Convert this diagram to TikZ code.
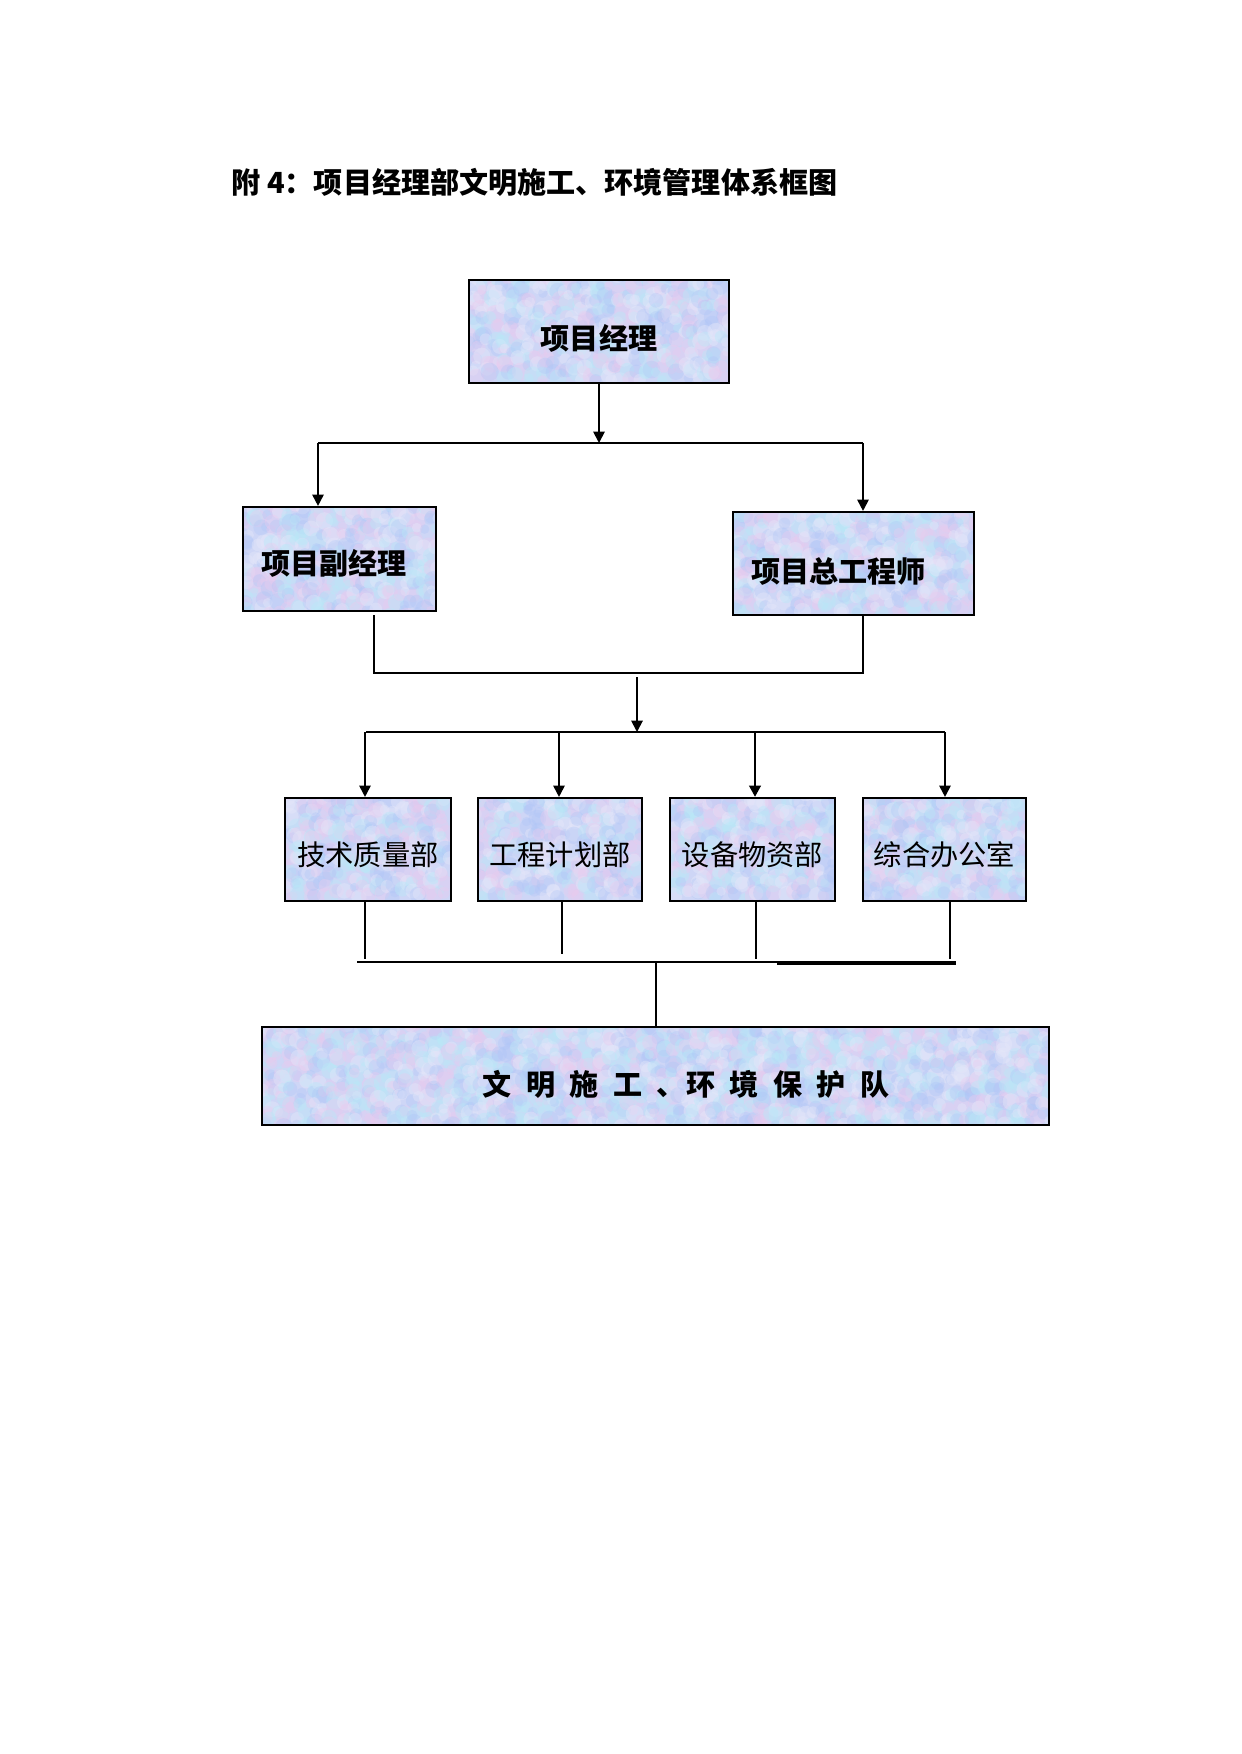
\documentclass[tikz,border=0pt]{standalone}
\usepackage{fontspec}
\setmainfont{Noto Sans CJK SC}
\usetikzlibrary{arrows.meta,calc}
\definecolor{texbase}{RGB}{206,214,246}
\definecolor{tpink}{RGB}{236,202,238}
\definecolor{tcyan}{RGB}{184,234,248}
\definecolor{tblue}{RGB}{172,196,246}
\definecolor{tpale}{RGB}{230,232,250}
\newcommand\lowtext[2]{\raisebox{-#1}[\height][\depth]{#2}}
% mottled fill of a rectangle given in px: x1,y1,x2,y2
\newcommand\mottle[4]{%
  \begin{scope}
    \clip (#1,#2) rectangle (#3,#4);
    \fill[texbase] (#1,#2) rectangle (#3,#4);
    \pgfmathtruncatemacro{\nx}{(#3-#1)/8}
    \pgfmathtruncatemacro{\ny}{(#4-#2)/8}
    \foreach \i in {0,...,\nx}{
      \foreach \j in {0,...,\ny}{
        \pgfmathtruncatemacro{\cc}{random(1,4)}
        \pgfmathsetmacro{\bx}{#1+\i*8+rand*5}
        \pgfmathsetmacro{\by}{#2+\j*8+rand*5}
        \pgfmathsetmacro{\br}{2.2+2.2*rnd}
        \fill[blob\cc] (\bx,\by) circle (\br pt);
      }
    }
  \end{scope}}
\tikzset{
  blob1/.style={fill=tpink, opacity=.35},
  blob2/.style={fill=tcyan, opacity=.38},
  blob3/.style={fill=tblue, opacity=.3},
  blob4/.style={fill=tpale, opacity=.4},
  tbox/.style={rectangle, draw=black, line width=1pt, inner sep=0pt},
  boldtxt/.style={font=\bfseries\fontsize{14pt}{16pt}\selectfont},
  lighttxt/.style={font=\fontsize{13.6pt}{16pt}\selectfont},
  lefttxt/.style={align=left, inner xsep=8.67pt, inner ysep=0pt},
  conn/.style={draw=black, line width=0.9pt},
  arr/.style={-{Triangle[length=5.5pt,width=5.5pt]}}
}
\begin{document}
\begin{tikzpicture}[x=0.016922cm,y=-0.016922cm]
\pgfmathsetseed{7}
\useasboundingbox[fill=white] (0,0) rectangle (1241,1754);
% mottled box fills
\mottle{469}{280}{729}{383}
\mottle{243}{507}{436}{611}
\mottle{733}{512}{974}{615}
\mottle{285}{798}{451}{901}
\mottle{478}{798}{642}{901}
\mottle{670}{798}{835}{901}
\mottle{863}{798}{1026}{901}
\mottle{262}{1027}{1049}{1125}
% title
\node[anchor=west, inner sep=0pt, font=\bfseries\fontsize{14pt}{16pt}\selectfont] (title) at (231,182) {附 4：项目经理部文明施工、环境管理体系框图};
% boxes
\node[tbox, boldtxt, minimum width=125.2pt, minimum height=49.6pt] (pm) at (599,331.5) {\lowtext{3.1pt}{项目经理}};
\node[tbox, boldtxt, lefttxt, minimum width=92.9pt, minimum height=50.1pt, text width=75.5pt] (dpm) at (339.5,559) {\lowtext{1.9pt}{项目副经理}};
\node[tbox, boldtxt, lefttxt, minimum width=116pt, minimum height=49.6pt, text width=98.6pt] (ce) at (853.5,563.5) {\lowtext{3.6pt}{项目总工程师}};
\node[tbox, lighttxt, minimum width=79.9pt, minimum height=49.6pt] (b1) at (368,849.5) {\lowtext{2.6pt}{技术质量部}};
\node[tbox, lighttxt, minimum width=79.0pt, minimum height=49.6pt] (b2) at (560,849.5) {\lowtext{2.6pt}{工程计划部}};
\node[tbox, lighttxt, minimum width=79.4pt, minimum height=49.6pt] (b3) at (752.5,849.5) {\lowtext{2.6pt}{设备物资部}};
\node[tbox, lighttxt, minimum width=78.5pt, minimum height=49.6pt] (b4) at (944.5,849.5) {\lowtext{2.6pt}{综合办公室}};
\node[tbox, boldtxt, minimum width=378.9pt, minimum height=47.2pt] (team) at (655.5,1076) {\lowtext{3.9pt}{\hspace*{29.4pt}\spaceskip=0.5em\relax 文 明 施 工 、环 境 保 护 队}};
% level 1 -> 2
\coordinate (j0) at (599,443);
\coordinate (jl) at (318,443);
\coordinate (jr) at (863,443);
\draw[conn, arr] (pm.south) -- (j0);
\draw[conn] (jl) -- (jr);
\draw[conn, arr] (jl) -- (jl |- dpm.north);
\draw[conn, arr] (jr) -- (jr |- ce.north);
% level 2 -> 3
\coordinate (ml0) at (374,615);
\coordinate (ml) at (374,673);
\coordinate (mr) at (863,673);
\draw[conn] (ml0) -- (ml) -- (mr) -- (mr |- ce.south);
\coordinate (k0) at (637,677);
\coordinate (k1) at (637,732);
\draw[conn, arr] (k0) -- (k1);
\coordinate (hl) at (366,732);
\coordinate (hr) at (945,732);
\draw[conn] (hl) -- (hr);
\coordinate (d1) at (365,732);
\coordinate (d2) at (559,732);
\coordinate (d3) at (755,732);
\coordinate (d4) at (945,732);
\draw[conn, arr] (d1) -- (d1 |- b1.north);
\draw[conn, arr] (d2) -- (d2 |- b2.north);
\draw[conn, arr, line width=1.4pt] (d3) -- (d3 |- b3.north);
\draw[conn, arr] (d4) -- (d4 |- b4.north);
% level 3 -> 4
\coordinate (u1) at (365,959);
\coordinate (u2) at (562,954);
\coordinate (u3) at (756,959);
\coordinate (u4) at (950,959);
\draw[conn] (u1 |- b1.south) -- (u1);
\draw[conn] (u2 |- b2.south) -- (u2);
\draw[conn, line width=0.5pt] (u3 |- b3.south) -- (u3);
\draw[conn] (u4 |- b4.south) -- (u4);
\coordinate (ql) at (357,962);
\coordinate (qr) at (956,962);
\draw[conn] (ql) -- (qr);
\coordinate (tl) at (777,963.5);
\coordinate (tr) at (956,963.5);
\draw[conn, line width=1.5pt] (tl) -- (tr);
\coordinate (v0) at (656,962);
\draw[conn] (v0) -- (v0 |- team.north);
\end{tikzpicture}
\end{document}
